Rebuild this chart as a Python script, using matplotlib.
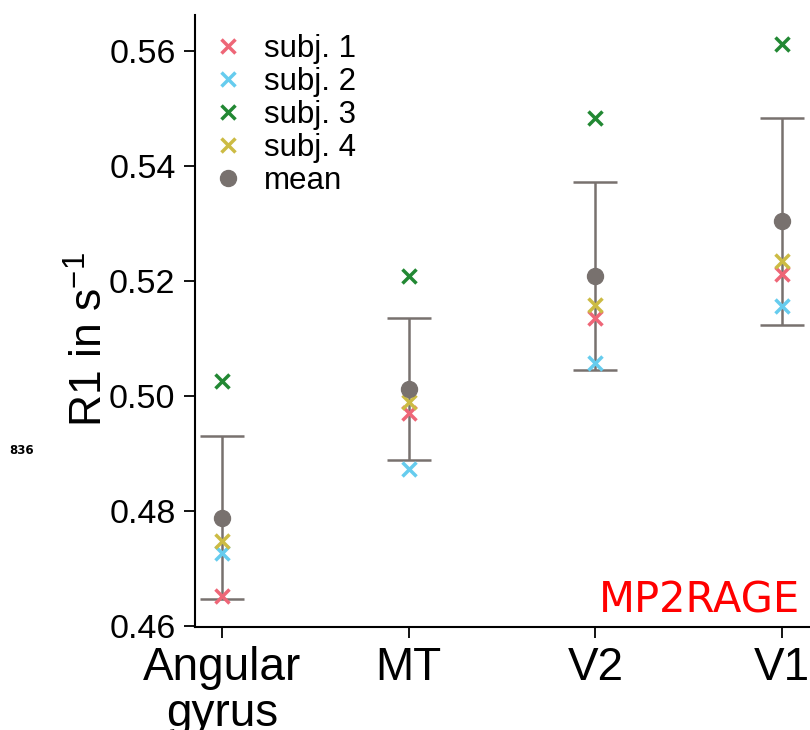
import numpy as np
import matplotlib
matplotlib.use('Agg')
import matplotlib.pyplot as plt

plt.rcParams['font.family'] = ['Liberation Sans', 'DejaVu Sans']
plt.rcParams['mathtext.fontset'] = 'custom'
plt.rcParams['mathtext.rm'] = 'Liberation Sans'

# R1 values per region
regions = ['Angular\ngyrus', 'MT', 'V2', 'V1']
subj1 = [0.4652, 0.4970, 0.5135, 0.5212]
subj2 = [0.4727, 0.4873, 0.5057, 0.5157]
subj3 = [0.5026, 0.5208, 0.5483, 0.5612]
subj4 = [0.4748, 0.4990, 0.5159, 0.5235]
mean_r1 = [0.4788, 0.5012, 0.5209, 0.5304]
err_r1 = [0.0142, 0.0123, 0.0163, 0.0180]

subj_colors = ['#EE6677', '#66CCEE', '#228833', '#CCBB44']
mean_color = '#78716e'

fig = plt.figure(figsize=(8.1, 7.3), dpi=100)
ax = fig.add_axes([195 / 810, 103 / 730, 614 / 810, 612 / 730])

x = np.arange(len(regions))

ax.errorbar(x, mean_r1, yerr=err_r1, fmt='none', ecolor=mean_color,
            elinewidth=1.8, capsize=16, capthick=1.8, zorder=1)
for i, vals in enumerate([subj1, subj2, subj3, subj4]):
    ax.plot(x, vals, linestyle='none', marker='x', markersize=10,
            markeredgewidth=2.5, color=subj_colors[i], label=f'subj. {i + 1}', zorder=2)
ax.plot(x, mean_r1, linestyle='none', marker='o', markersize=11.5,
        color=mean_color, label='mean', zorder=3)

ax.set_xlim(-0.145, 3.145)
ax.set_ylim(0.4598, 0.5663)
ax.set_xticks(x)
ax.set_xticklabels(regions, fontsize=33, linespacing=1.05)
ax.set_yticks([0.46, 0.48, 0.50, 0.52, 0.54, 0.56])
ax.set_yticklabels(['0.46', '0.48', '0.50', '0.52', '0.54', '0.56'], fontsize=24.5)
ax.set_ylabel('R1 in s$^{-1}$', fontsize=32)
ax.yaxis.set_label_coords(-0.135, 0.47)

ax.spines['top'].set_visible(False)
ax.spines['right'].set_visible(False)
ax.spines['left'].set_linewidth(1.5)
ax.spines['bottom'].set_linewidth(1.5)
ax.tick_params(axis='both', direction='out', length=8, width=1.3, pad=6)

ax.legend(loc='upper left', bbox_to_anchor=(0.0, 1.0), frameon=False, fontsize=22.5,
          labelspacing=0.1, handletextpad=0.7, borderaxespad=0.2, handlelength=0.9)

ax.text(0.985, 0.023, 'MP2RAGE', transform=ax.transAxes, ha='right', va='baseline',
        color='red', fontsize=30, family='DejaVu Sans')

fig.text(9 / 810, 1 - 450 / 730, '836', fontsize=8.5, fontweight='bold',
         ha='left', va='center', family='DejaVu Sans')

fig.savefig('out.png', dpi=100)
